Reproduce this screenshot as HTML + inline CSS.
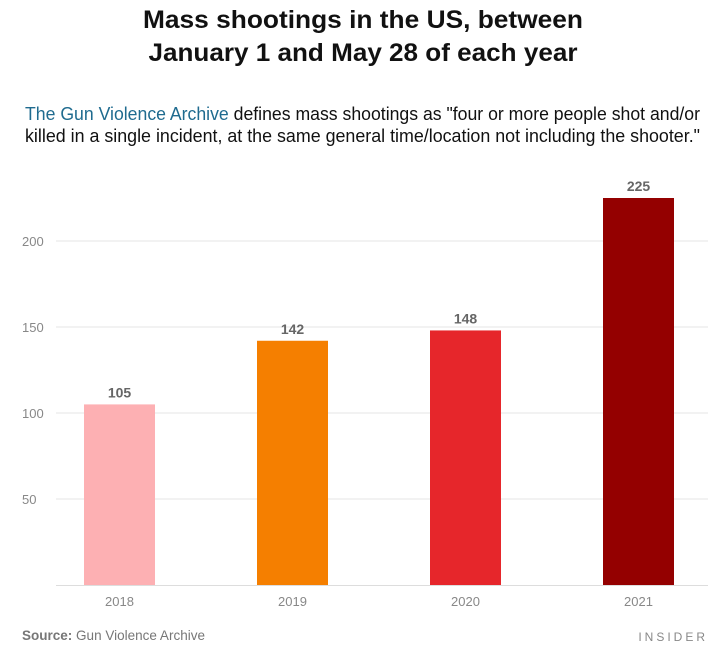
<!DOCTYPE html>
<html><head><meta charset="utf-8"><style>
html,body{margin:0;padding:0;background:#fff;}
svg{display:block;font-family:"Liberation Sans",sans-serif;}
</style></head><body>
<svg id="chart" width="720" height="656" viewBox="0 0 720 656">
<text x="363" y="28" text-anchor="middle" font-size="25" font-weight="bold" fill="#111" textLength="440" lengthAdjust="spacingAndGlyphs">Mass shootings in the US, between</text>
<text x="363" y="61" text-anchor="middle" font-size="25" font-weight="bold" fill="#111" textLength="429" lengthAdjust="spacingAndGlyphs">January 1 and May 28 of each year</text>
<text x="25" y="120" font-size="18" fill="#111" textLength="675" lengthAdjust="spacingAndGlyphs"><tspan fill="#1f6b8f">The Gun Violence Archive</tspan> defines mass shootings as "four or more people shot and/or</text>
<text x="25" y="142" font-size="18" fill="#111" textLength="675" lengthAdjust="spacingAndGlyphs">killed in a single incident, at the same general time/location not including the shooter."</text>
<g id="grid"></g>
<g id="bars"></g>
<text x="22" y="640" font-size="14" fill="#777" textLength="183" lengthAdjust="spacingAndGlyphs"><tspan font-weight="bold">Source:</tspan> Gun Violence Archive</text>
<text x="708" y="641" text-anchor="end" font-size="12" fill="#888" letter-spacing="3">INSIDER</text>
</svg>
<script>
const categories = ["2018","2019","2020","2021"];
const values = [105,142,148,225];
const colors = ["#fdb0b3","#f57f00","#e6262b","#940000"];
const yTicks = [50,100,150,200];
const NS="http://www.w3.org/2000/svg";
const y = v => 585 - v*1.72;
const xc = i => 119.5 + i*173;
const barW = 71;
function mk(tag, attrs, parent){const e=document.createElementNS(NS,tag);for(const k in attrs)e.setAttribute(k,attrs[k]);parent.appendChild(e);return e;}
const grid=document.getElementById('grid'), bars=document.getElementById('bars');
yTicks.forEach(t=>{
  const l=mk('line',{x1:56,x2:708,y1:y(t),y2:y(t),stroke:'#e6e6e6','stroke-width':1},grid);
  
  
  const tx=mk('text',{x:22,y:y(t)+5,'font-size':13,fill:'#888'},grid);
  tx.textContent=t;
  
  
});
const base=mk('line',{x1:56,x2:708,y1:585.5,y2:585.5,stroke:'#ddd','stroke-width':1},grid);


categories.forEach((c,i)=>{
  const r=mk('rect',{x:xc(i)-barW/2,y:y(values[i]),width:barW,height:585-y(values[i]),fill:colors[i]},bars);
  
  
  const v=mk('text',{x:xc(i),y:y(values[i])-7,'text-anchor':'middle','font-size':14,'font-weight':'bold',fill:'#666'},bars);
  v.textContent=values[i];
  
  
  const xl=mk('text',{x:xc(i),y:606,'text-anchor':'middle','font-size':13,fill:'#888'},bars);
  xl.textContent=c;
  
  
});
</script>
</body></html>
